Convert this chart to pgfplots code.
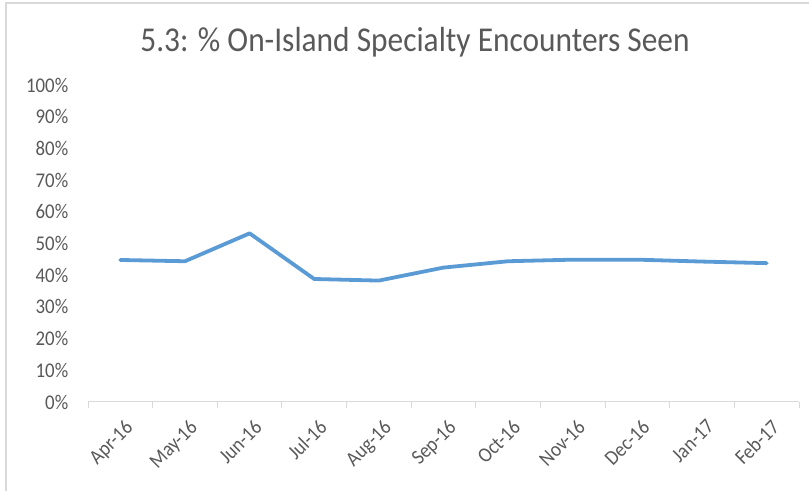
\documentclass[border=0pt]{standalone}
\usepackage{pgfplots}
\pgfplotsset{compat=1.18}
\usepackage{fontspec}
\setmainfont[FakeStretch=0.9]{Carlito}
\definecolor{txt}{RGB}{89,89,89}
\definecolor{axl}{RGB}{217,217,217}
\definecolor{ln}{RGB}{91,155,213}
\begin{document}
\begin{tikzpicture}[x=1bp,y=1bp]
\useasboundingbox (0,0) rectangle (809,491);
\draw[axl,line width=1.2bp] (6,-5) -- (6,488) -- (815,488);
\node[txt,font=\fontsize{35}{41}\selectfont] at (415,449) {5.3: \% On-Island Specialty Encounters Seen};
\begin{axis}[
  at={(88bp,89bp)}, anchor=south west,
  scale only axis, width=711bp, height=317bp,
  xmin=-0.5, xmax=10.5, ymin=0, ymax=100,
  axis x line*=bottom, axis y line*=left,
  x axis line style={axl,line width=1bp,-},
  y axis line style={draw=none},
  xtick={0,...,10},
  xticklabels={Apr-16,May-16,Jun-16,Jul-16,Aug-16,Sep-16,Oct-16,Nov-16,Dec-16,Jan-17,Feb-17},
  major x tick style={draw=none},
  minor xtick={-0.5,0.5,...,10.5},
  minor x tick style={axl,line width=1bp},
  minor tick length=6bp, tick align=outside,
  ytick={0,10,...,100},
  ytick style={draw=none},
  yticklabel={\pgfmathprintnumber{\tick}\%},
  /pgf/number format/assume math mode=true,
  tick label style={txt,font=\fontsize{21}{24}\selectfont},
  xticklabel style={rotate=45,anchor=north east,inner sep=1bp,yshift=-10bp,xshift=-5bp},
  yticklabel style={xshift=-12bp},
  clip=false,
]
\addplot[ln,line width=3.8bp,line join=round,line cap=round] coordinates {
(0,44.8) (1,44.4) (2,53.2) (3,38.8) (4,38.3) (5,42.4) (6,44.4) (7,44.9) (8,44.9) (9,44.3) (10,43.8)
};
\end{axis}
\end{tikzpicture}
\end{document}
